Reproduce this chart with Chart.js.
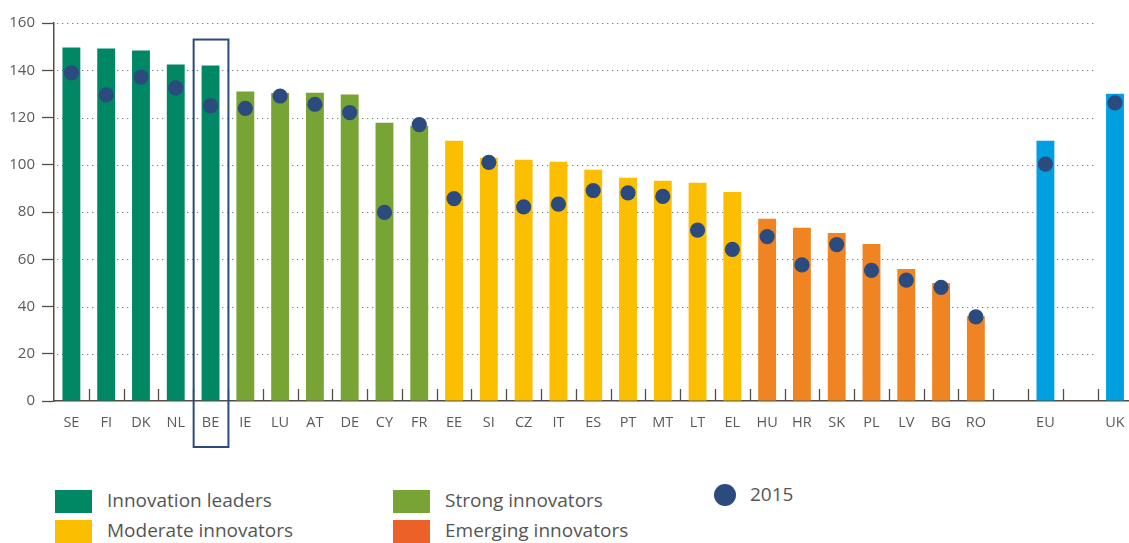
<!DOCTYPE html>
<html>
<head>
<meta charset="utf-8">
<script src="https://cdn.jsdelivr.net/npm/chart.js@4.4.0/dist/chart.umd.min.js"></script>
<style>
  html, body { margin: 0; padding: 0; background: #fff; overflow: hidden; }
  #wrap { position: relative; width: 1140px; height: 543px; font-family: "Open Sans", "Noto Sans", sans-serif; }
  #c { position: absolute; left: 0; top: 0; }
  .sw { position: absolute; width: 37px; height: 23px; }
  .lt { position: absolute; font-size: 19px; line-height: 23px; color: #555; white-space: nowrap; }
  .dot { position: absolute; width: 22px; height: 22px; border-radius: 50%; }
</style>
</head>
<body>
<div id="wrap">
  <canvas id="c" width="1140" height="452"></canvas>
  <div id="legend"></div>
</div>
<script>
// ---- data ----
const categories = ['SE','FI','DK','NL','BE','IE','LU','AT','DE','CY','FR','EE','SI','CZ','IT','ES','PT','MT','LT','EL','HU','HR','SK','PL','LV','BG','RO','','EU','','UK'];
const groups = ['leader','leader','leader','leader','leader',
  'strong','strong','strong','strong','strong','strong',
  'moderate','moderate','moderate','moderate','moderate','moderate','moderate','moderate','moderate',
  'emerging','emerging','emerging','emerging','emerging','emerging','emerging',
  '', 'ref', '', 'ref'];
const values2016 = [149.6,149.2,148.4,142.4,142.0,131.0,130.4,130.5,129.7,117.8,116.5,110.2,103.0,102.1,101.3,97.9,94.5,93.2,92.4,88.5,77.1,73.3,71.1,66.5,55.9,49.9,35.9,null,110.2,null,130.1];
const values2015 = [138.9,129.6,137.1,132.5,124.9,123.9,129.1,125.6,122.1,79.8,117.0,85.7,101.0,82.2,83.3,89.1,88.1,86.6,72.3,64.2,69.6,57.6,66.2,55.3,51.2,48.1,35.6,null,100.3,null,126.2];
const yTicks = [0,20,40,60,80,100,120,140,160];
const highlighted = 'BE';
const legendGroups = ['Innovation leaders','Strong innovators','Moderate innovators','Emerging innovators'];
const legend2015 = '2015';

// ---- styles ----
const barColors = { leader: '#008865', strong: '#78a335', moderate: '#fbbe00', emerging: '#f08423', ref: '#009fdf', '': 'rgba(0,0,0,0)' };
const legendColors = ['#008865','#78a335','#fbbe00','#ec6128'];
const dotColor = '#2b4a7e';
const axisColor = '#554d43';
const textColor = '#5a5a5a';

const gridPlugin = {
  id: 'dottedGrid',
  beforeDatasetsDraw(chart) {
    const x = chart.scales.x, y = chart.scales.y, ctx = chart.ctx;
    const w = x.getPixelForValue(1) - x.getPixelForValue(0);
    const xEnd = x.getPixelForValue(categories.length - 1) - w / 2 - 2;
    ctx.save();
    ctx.strokeStyle = '#7d7d7d';
    ctx.lineWidth = 1.2;
    ctx.setLineDash([1.3, 3.7]);
    yTicks.forEach(v => {
      if (v === 0) return;
      const py = Math.round(y.getPixelForValue(v)) + 0.5;
      ctx.beginPath();
      ctx.moveTo(chart.chartArea.left + 3, py);
      ctx.lineTo(xEnd, py);
      ctx.stroke();
    });
    ctx.restore();
  }
};

const xTicksPlugin = {
  id: 'xTicksUp',
  afterDraw(chart) {
    const x = chart.scales.x, y = chart.scales.y, ctx = chart.ctx;
    ctx.save();
    ctx.strokeStyle = axisColor;
    ctx.lineWidth = 1.3;
    for (let i = 1; i < categories.length; i++) {
      const px = Math.round((x.getPixelForValue(i - 1) + x.getPixelForValue(i)) / 2) + 0.5;
      ctx.beginPath();
      ctx.moveTo(px, y.bottom);
      ctx.lineTo(px, y.bottom - 12);
      ctx.stroke();
    }
    // highlight box
    const bi = categories.indexOf(highlighted);
    const cx = x.getPixelForValue(bi);
    const w = (x.getPixelForValue(1) - x.getPixelForValue(0));
    const top = y.getPixelForValue(153);
    ctx.strokeStyle = dotColor;
    ctx.lineWidth = 2;
    ctx.strokeRect(cx - w / 2 + 0.5, top, w, y.bottom + 46 - top);
    ctx.restore();
  }
};

new Chart(document.getElementById('c'), {
  data: {
    labels: categories,
    datasets: [
      {
        type: 'line',
        label: legend2015,
        data: values2015,
        showLine: false,
        pointRadius: 7.6,
        pointHoverRadius: 7.6,
        pointBackgroundColor: dotColor,
        pointBorderWidth: 0,
        order: 0
      },
      {
        type: 'bar',
        label: '2016',
        data: values2016,
        backgroundColor: groups.map(g => barColors[g]),
        barPercentage: 0.514,
        categoryPercentage: 1,
        order: 1
      }
    ]
  },
  options: {
    responsive: false,
    animation: false,
    devicePixelRatio: 1,
    layout: { padding: { top: 23, right: 1, left: 0, bottom: 0 } },
    plugins: { legend: { display: false }, tooltip: { enabled: false } },
    scales: {
      x: {
        offset: true,
        grid: { display: true, drawOnChartArea: false, drawTicks: false },
        border: { display: true, color: axisColor, width: 1.5 },
        ticks: { color: textColor, font: { family: '"Open Sans", sans-serif', size: 14.5 }, padding: 13, maxRotation: 0, autoSkip: false },
        afterFit(s) { s.height = 51; }
      },
      y: {
        min: 0, max: 160,
        afterBuildTicks(s) { s.ticks = yTicks.map(v => ({ value: v })); },
        grid: { drawOnChartArea: false, drawTicks: true, tickLength: 12, tickColor: axisColor, tickWidth: 1.3 },
        border: { display: true, color: axisColor, width: 1.5 },
        ticks: { color: textColor, font: { family: '"Open Sans", sans-serif', size: 15 }, padding: 7 },
        afterFit(s) { s.width = 54; }
      }
    }
  },
  plugins: [gridPlugin, xTicksPlugin]
});

// ---- HTML legend ----
const lg = document.getElementById('legend');
const pos = [[55,490],[393,490],[55,520],[393,520]];
legendGroups.forEach((t, i) => {
  const sw = document.createElement('div');
  sw.className = 'sw';
  sw.style.left = pos[i][0] + 'px'; sw.style.top = pos[i][1] + 'px';
  sw.style.background = legendColors[i];
  lg.appendChild(sw);
  const tx = document.createElement('div');
  tx.className = 'lt';
  tx.style.left = (pos[i][0] + 52) + 'px'; tx.style.top = (pos[i][1] - 1) + 'px';
  tx.textContent = t;
  lg.appendChild(tx);
});
const d = document.createElement('div');
d.className = 'dot'; d.style.left = '714px'; d.style.top = '484px'; d.style.background = dotColor;
lg.appendChild(d);
const dt = document.createElement('div');
dt.className = 'lt'; dt.style.left = '750px'; dt.style.top = '483px'; dt.textContent = legend2015;
lg.appendChild(dt);
</script>
</body>
</html>
